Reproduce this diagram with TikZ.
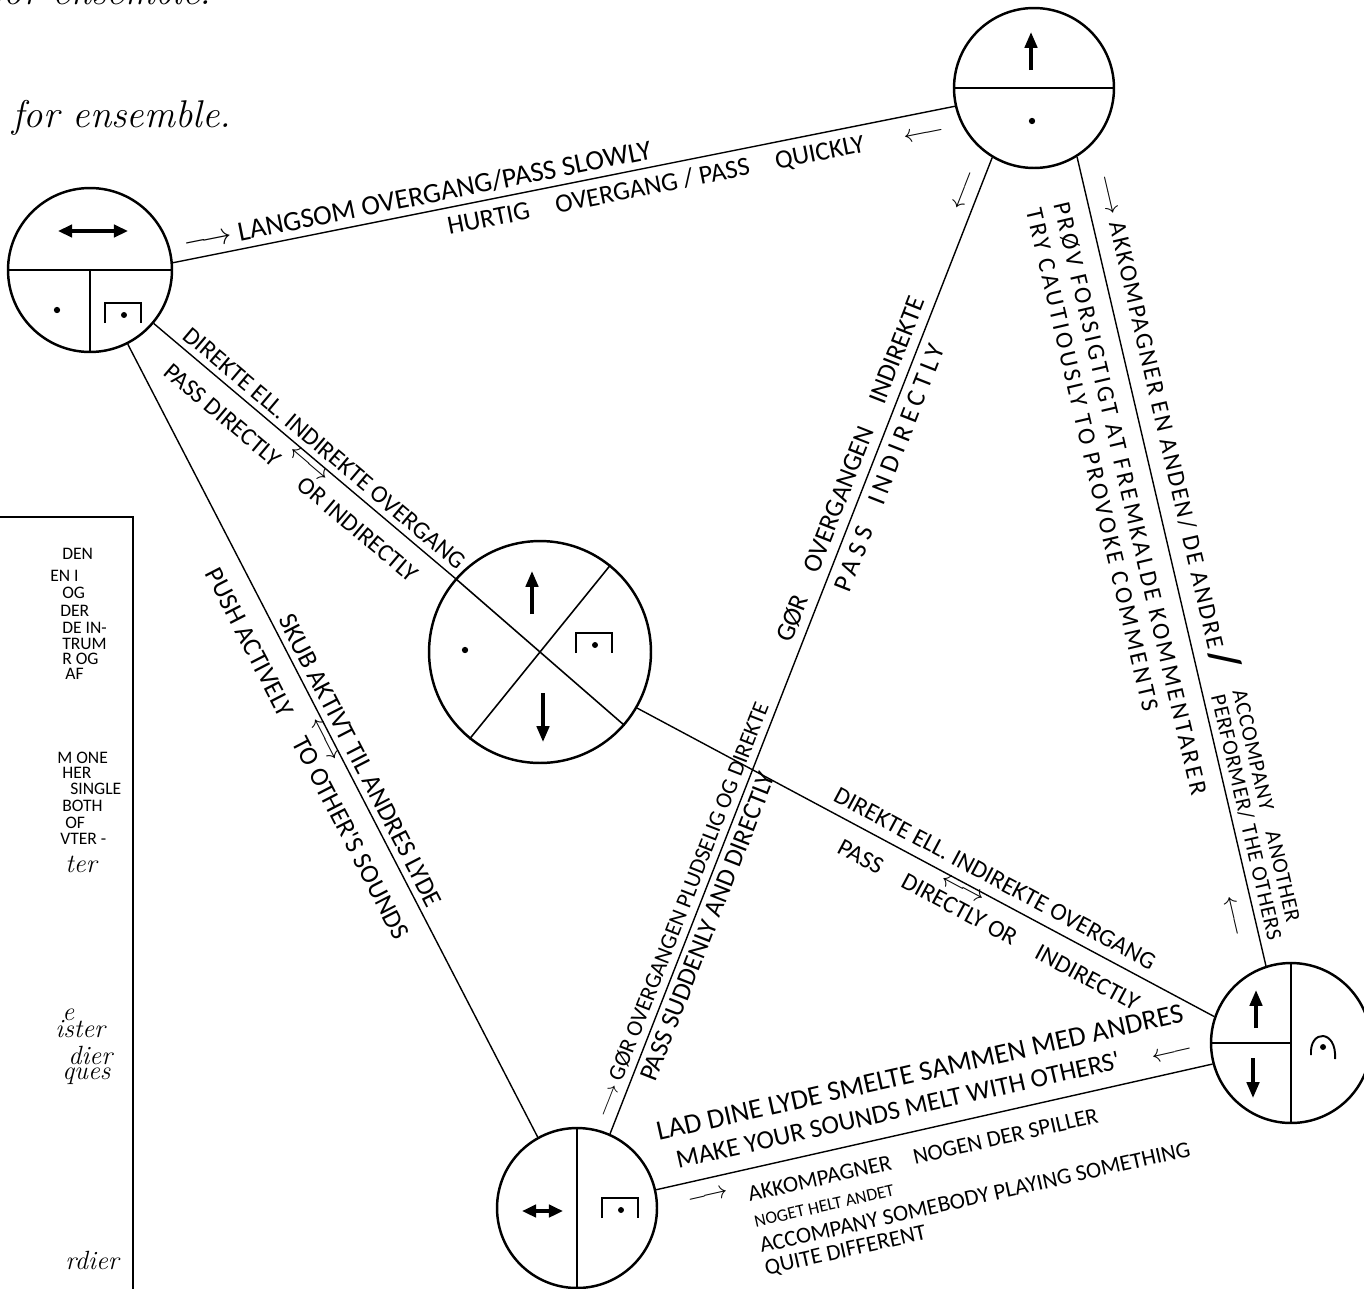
\documentclass[tikz,border=0pt]{standalone}
\usepackage{fontspec}
\newfontfamily\hand{Carlito}
\usetikzlibrary{arrows.meta,calc}

% open box with a dot (sign inside the circles)
\newcommand\restsign[1]{%
  \draw[line width=1.1pt] ($(#1)+(-18,10)$) -- ++(0,-20) -- ++(36,0) -- ++(0,20);
  \fill ($(#1)+(1,2)$) circle (1.7pt);}
% hold sign
\newcommand\holdsign[1]{%
  \draw[line width=1.1pt] ($(#1)+(-12,10)$) .. controls ($(#1)+(-14,-16)$) and ($(#1)+(14,-16)$) .. ($(#1)+(12,14)$);
  \fill ($(#1)+(0,2)$) circle (1.7pt);}

\tikzset{
  ring/.style={circle, draw, line width=1.4pt, inner sep=0pt, minimum size=#1},
  link/.style={line width=0.8pt},
  part/.style={line width=0.9pt},
  fat/.style={line width=2pt, -{Triangle[length=9pt,width=7pt]}},
  fatboth/.style={line width=2pt, {Triangle[length=8pt,width=7pt]}-{Triangle[length=8pt,width=7pt]}},
  lbl/.style={font=\hand\fontsize{#1}{#1}\selectfont, inner sep=1.5pt},
  lbl/.default=14,
  lbls/.style 2 args={font=\hand\fontsize{#1}{#1}\selectfont\addfontfeature{LetterSpace=#2}, inner sep=1.5pt},
  twoway/.style={font=\fontsize{15}{15}\selectfont, inner sep=0pt},
}

\begin{document}
\begin{tikzpicture}[x=0.02cm, y=-0.02cm]
  \useasboundingbox (0,0) rectangle (1364,1288);

  % heading
  \node[anchor=base west, inner sep=0, font=\fontsize{22}{22}\selectfont\itshape] (head0) at (-8,5) {for ensemble.};
  \node[anchor=base west, inner sep=0, font=\fontsize{22}{22}\selectfont\itshape] (head) at (12,127) {for ensemble.};

  % left box
  \draw[link] (-5,517) -| (133,1300);
  \foreach \yy/\xx/\txt in {559/62/DEN, 581/50/EN I, 598/62/OG, 616/60/DER, 633/62/DE IN-,
      649/62/TRUM, 664/62/R OG, 679/65/AF, 763/57/M ONE, 778/62/HER, 794/70/SINGLE,
      811/62/BOTH, 828/65/OF, 844/60/VTER -}
    \node[lbl=10, anchor=base west, inner sep=0] (box\yy) at (\xx,\yy) {\txt};
  \foreach \yy/\xx/\txt in {872/65/ter, 1020/62/e, 1037/55/ister, 1064/68/dier, 1079/62/ques, 1269/65/rdier}
    \node[anchor=base west, inner sep=0, font=\fontsize{15}{15}\selectfont\itshape] (box\yy) at (\xx,\yy) {\txt};

  % the five circles
  \node[ring=3.28cm] (nw) at (90,270) {};
  \node[ring=3.2cm] (ne) at (1034,88) {};
  \node[ring=4.44cm] (mid) at (540,652) {};
  \node[ring=3.2cm] (s) at (577,1208) {};
  \node[ring=3.2cm] (se) at (1291,1043) {};

  % inside nw
  \draw[part] (nw.west) -- (nw.east);
  \draw[part] (nw.center) -- (nw.south);
  \draw[fatboth] (58,231) -- (128,231);
  \fill (57,310) circle (1.8pt);
  \restsign{123,313}

  % inside ne
  \draw[part] (ne.west) -- (ne.east);
  \draw[fat] (1031,70) -- (1031,32);
  \fill (1032,121) circle (1.8pt);

  % inside mid
  \draw[part] (mid.139) -- (mid.-41);
  \draw[part] (mid.51) -- (mid.231);
  \draw[fat] (532,614) -- (532,571);
  \draw[fat] (543,693) -- (543,742);
  \fill (465,650) circle (1.8pt);
  \restsign{594,643}

  % inside s
  \draw[part] (s.north) -- (s.south);
  \draw[fatboth] (522,1211) -- (563,1211);
  \restsign{620,1208}

  % inside se
  \draw[part] (se.north) -- (se.south);
  \draw[part] (se.west) -- (se.center);
  \draw[fat] (1256,1028) -- (1256,990);
  \draw[fat] (1253,1058) -- (1253,1098);
  \holdsign{1323,1045}

  % connectors
  \draw[link] (nw.5) --
    node[lbl=16, sloped, above=2pt, pos=.317] (slowtxt) {$\longrightarrow$ LANGSOM OVERGANG/PASS SLOWLY}
    node[lbl=15, sloped, below=3pt, pos=.613] (fasttxt) {HURTIG\quad OVERGANG / PASS\quad QUICKLY}
    node[lbl=15, sloped, below=8pt, pos=.955] (fastarr) {$\longleftarrow$}
    (ne.193);

  \draw[link] (nw.-40) --
    node[lbl=14, sloped, above=2pt, pos=.535] (dirA) {DIREKTE ELL. INDIREKTE OVERGANG}
    node[twoway, sloped, below=2pt, pos=.53] (dirAB) {$\longleftrightarrow$}
    node[lbl=14, sloped, below=8pt, pos=.51] (dirB) {PASS DIRECTLY\quad\ OR INDIRECTLY}
    (mid.139);

  \draw[link] (nw.-63) --
    node[lbl=15, sloped, above=2pt, pos=.534] (pushA) {SKUB AKTIVT TIL ANDRES LYDE}
    node[twoway, sloped, below=1.5pt, pos=.495] (pushAB) {$\longleftrightarrow$}
    node[lbl=15, sloped, below=9pt, pos=.50] (pushB) {PUSH ACTIVELY\quad TO OTHER'S SOUNDS}
    (s.119);

  \draw[link] (s.66) --
    node[lbl=13, sloped, above=2pt, pos=.224] (jumpA) {$\longrightarrow$ GØR OVERGANGEN PLUDSELIG OG DIREKTE}
    node[lbl=15, sloped, below=2pt, pos=.218] (jumpB) {PASS SUDDENLY AND DIRECTLY}
    node[lbl=15, sloped, above=3pt, pos=.674] (bendA) {GØR\quad OVERGANGEN\quad INDIREKTE}
    node[lbls={15}{20}, sloped, below=3pt, pos=.689] (bendB) {PASS\quad INDIRECTLY}
    node[lbl=15, sloped, above=3pt, pos=.961] (bendarr) {$\longleftarrow$}
    (ne.239);

  \draw[link] (ne.-58) --
    node[lbls={14}{8}, sloped, above=6pt, anchor=south west, pos=.025] (compA) {$\longrightarrow$ AKKOMPAGNER EN ANDEN/ DE ANDRE\,{\fontsize{24}{24}\selectfont\bfseries/}}
    node[lbls={12.5}{4}, sloped, above=2pt, anchor=south west, pos=.665, align=left] (compB) {ACCOMPANY\quad ANOTHER\\PERFORMER/ THE OTHERS}
    node[lbls={14}{12}, sloped, below=8pt, anchor=north west, pos=.045, align=left] (provA) {PRØV FORSIGTIGT AT FREMKALDE KOMMENTARER\\[2pt]TRY CAUTIOUSLY TO PROVOKE COMMENTS}
    node[lbl=15, sloped, below=8pt, pos=.933] (provarr) {$\longleftarrow$}
    (se.108);

  \draw[link] (mid.-30) --
    node[lbl=14, sloped, above=4pt, pos=.605] (dirC) {DIREKTE ELL. INDIREKTE OVERGANG}
    node[twoway, sloped, below=1pt, pos=.569] (dirCD) {$\longleftrightarrow$}
    node[lbl=14, sloped, below=8pt, pos=.63] (dirD) {PASS\quad DIRECTLY OR\quad INDIRECTLY}
    (se.161);

  \draw[link] (s.13) --
    node[lbl=16, sloped, above=7pt, anchor=south west, pos=.018, align=left] (meltA) {LAD DINE LYDE SMELTE SAMMEN MED ANDRES\\[2pt]\ \ {\fontsize{15}{15}\selectfont MAKE YOUR SOUNDS MELT WITH OTHERS'}}
    node[lbl=15, sloped, above=6pt, pos=.935] (meltarr) {$\longleftarrow$}
    node[lbl=15, sloped, below=6pt, pos=.086] (otherarr) {$\longrightarrow$}
    node[lbl=13, sloped, below=8pt, anchor=north west, pos=.15, align=left] (otherA) {AKKOMPAGNER\quad NOGEN DER SPILLER\\[2pt]{\fontsize{10}{10}\selectfont NOGET HELT ANDET}\\[2pt]ACCOMPANY SOMEBODY PLAYING SOMETHING\\[0pt]QUITE DIFFERENT}
    (se.195);
\end{tikzpicture}
\end{document}
